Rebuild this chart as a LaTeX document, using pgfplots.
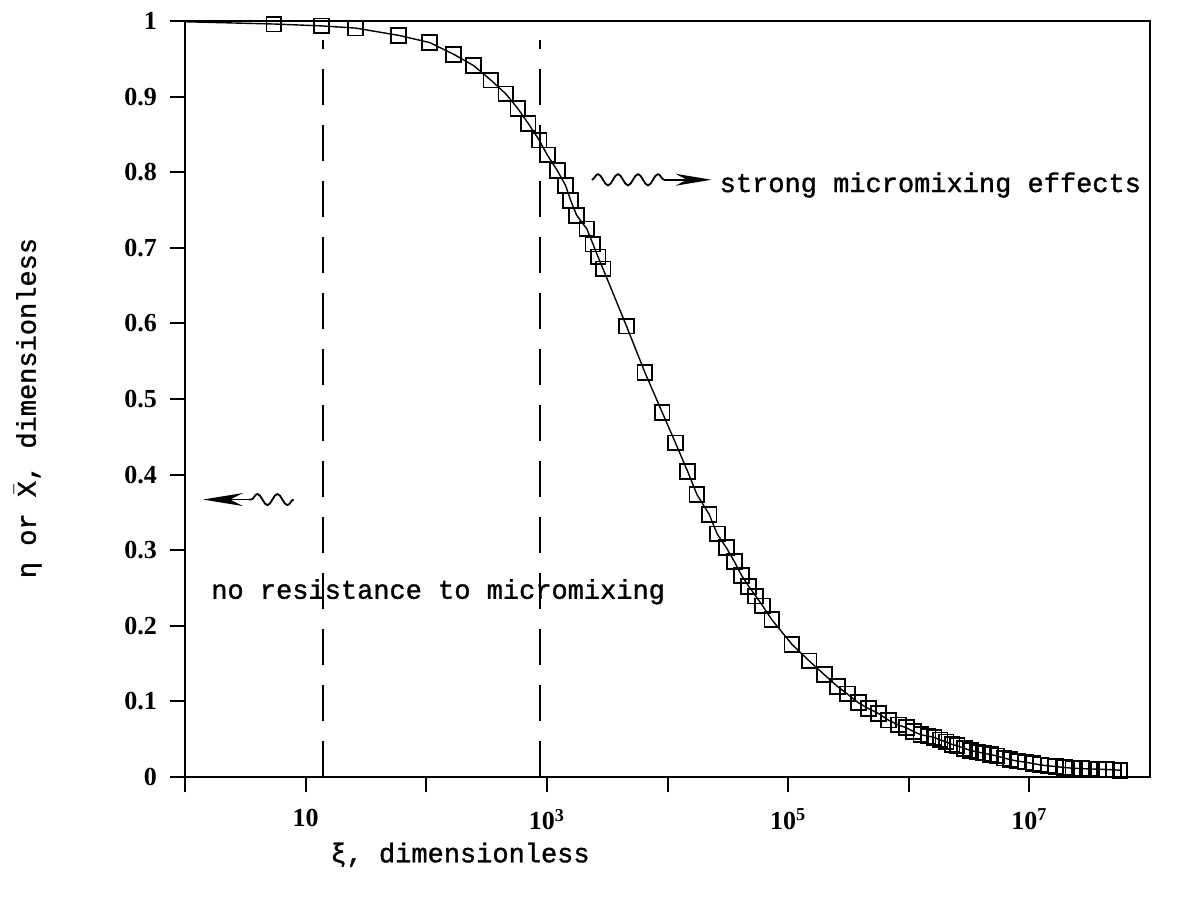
\documentclass[border=0pt]{standalone}
\usepackage{fontspec}
\setmainfont{Liberation Serif}
\newfontfamily\tw{Liberation Mono}[FakeBold=1.2]
\usepackage{pgfplots}
\pgfplotsset{compat=1.18}
\usepackage{pgfplotstable}
\usetikzlibrary{decorations.pathmorphing,arrows.meta}

\pgfplotstableread{
xi eta
1 0.999
5.46 0.996
13.6 0.9935
26.0 0.9906
59.0 0.981
106.7 0.9715
168.7 0.956
247.2 0.941
343.6 0.9217
457.1 0.9036
575.4 0.884
699.8 0.8646
863.0 0.8424
1007 0.8229
1222 0.802
1429 0.7824
1574 0.7628
1766 0.743
2143 0.725
2410 0.705
2655 0.688
2924 0.672
4571 0.5964
6501 0.535
9036 0.4824
11640 0.4419
14720 0.4038
17540 0.3737
22130 0.3476
25820 0.3215
30760 0.3033
35810 0.285
41110 0.2667
47100 0.2523
53830 0.2394
61520 0.2263
73280 0.208
107400 0.1756
149300 0.1536
199100 0.1355
255300 0.120
309700 0.1098
382800 0.0982
462400 0.0905
559800 0.0842
677600 0.0752
822200 0.0688
957100 0.0651
1.096e6 0.060
1.259e6 0.056
1.445e6 0.054
1.622e6 0.0525
1.820e6 0.049
2.042e6 0.0464
2.291e6 0.043
2.512e6 0.0415
2.884e6 0.038
3.236e6 0.0352
3.715e6 0.033
4.169e6 0.0316
4.786e6 0.0295
5.370e6 0.028
6.166e6 0.025
6.918e6 0.0231
7.943e6 0.021
9.333e6 0.0196
1.072e7 0.0178
1.230e7 0.016
1.445e7 0.0148
1.660e7 0.0137
1.950e7 0.0126
2.291e7 0.0116
2.692e7 0.0111
3.162e7 0.0107
3.715e7 0.0103
4.365e7 0.0099
5.012e7 0.0095
5.623e7 0.009
}\curvedata

\begin{document}
\begin{tikzpicture}
\path[use as bounding box] (0,0) rectangle (593pt,458pt);
\begin{axis}[
  at={(92.5pt,69.5pt)}, anchor=south west,
  scale only axis, width=482.5pt, height=378pt,
  xmode=log, xmin=1, xmax=1e8, ymin=0, ymax=1,
  xtick={1,10,100,1000,1e4,1e5,1e6,1e7},
  xticklabels={,\textbf{10},,\textbf{10}\textsuperscript{\textbf{3}},,\textbf{10}\textsuperscript{\textbf{5}},,\textbf{10}\textsuperscript{\textbf{7}}},
  xminorticks=false,
  ytick={0,0.1,0.2,0.3,0.4,0.5,0.6,0.7,0.8,0.9,1},
  yticklabels={\textbf{0},\textbf{0.1},\textbf{0.2},\textbf{0.3},\textbf{0.4},\textbf{0.5},\textbf{0.6},\textbf{0.7},\textbf{0.8},\textbf{0.9},\textbf{1}},
  xtick pos=bottom, ytick pos=left,
  tick align=outside,
  major tick length=7.5pt,
  major tick style={line width=1pt, black},
  axis line style={line width=1.2pt},
  ticklabel style={font=\fontsize{13}{13}\selectfont\bfseries},
  xticklabel style={yshift=-5pt},
  yticklabel style={xshift=-3pt},
  xlabel={ξ, dimensionless},
  ylabel={η or $\bar{\mbox{X}}$, dimensionless},
  xlabel style={font=\tw\fontsize{13.5}{13.5}\selectfont, at={(rel axis cs:0.285,-0.103)}, anchor=center},
  ylabel style={font=\tw\fontsize{13.5}{13.5}\selectfont, at={(rel axis cs:-0.163,0.488)}, anchor=center},
  clip=false,
]
\addplot[black, line width=0.7pt, no marks] table[x=xi, y=eta] {\curvedata};
\addplot[black, only marks, mark=square, mark size=3.7pt, mark options={line width=0.9pt}, skip coords between index={0}{1}] table[x=xi, y=eta] {\curvedata};

\addplot[black, line width=0.9pt, dash pattern=on 18pt off 10pt, no marks] coordinates {(14,0) (14,0.975)};
\addplot[black, line width=0.9pt, dash pattern=on 18pt off 10pt, no marks] coordinates {(880,0) (880,0.975)};

\draw[line width=0.9pt, decorate, decoration={snake, amplitude=2.8pt, segment length=10pt}] (axis cs:2355,0.79) -- (axis cs:9440,0.79);
\draw[line width=0.9pt, -{Stealth[length=18pt,width=6pt]}] (axis cs:9440,0.79) -- (axis cs:23100,0.79);
\node[anchor=west, inner sep=0pt, font=\tw\fontsize{13.5}{13.5}\selectfont] at (axis cs:26900,0.783) {strong micromixing effects};

\draw[line width=0.9pt, decorate, decoration={snake, amplitude=2.8pt, segment length=10pt}] (axis cs:7.96,0.367) -- (axis cs:3.38,0.367);
\draw[line width=0.9pt, -{Stealth[length=20pt,width=6.5pt]}] (axis cs:3.38,0.367) -- (axis cs:1.41,0.367);
\node[anchor=west, inner sep=0pt, font=\tw\fontsize{13.5}{13.5}\selectfont] at (axis cs:1.64,0.245) {no resistance to micromixing};
\end{axis}
\end{tikzpicture}
\end{document}
